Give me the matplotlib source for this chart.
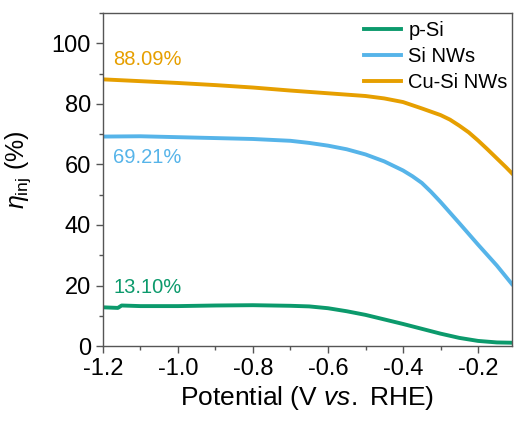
import matplotlib
matplotlib.use("Agg")
import matplotlib.pyplot as plt
from matplotlib.ticker import MultipleLocator

plt.rcParams["font.family"] = ["Liberation Sans", "DejaVu Sans"]
plt.rcParams["mathtext.fontset"] = "custom"
plt.rcParams["mathtext.rm"] = "Liberation Sans"
plt.rcParams["mathtext.it"] = "Liberation Sans:italic"

# -----------------------------
# Data
# -----------------------------
v_psi = [-1.2, -1.16, -1.15, -1.1, -1.0, -0.9, -0.8, -0.7, -0.65, -0.6, -0.55,
         -0.5, -0.45, -0.4, -0.35, -0.3, -0.25, -0.2, -0.15, -0.11]
eta_psi = [12.8, 12.6, 13.4, 13.2, 13.2, 13.4, 13.5, 13.3, 13.1, 12.5, 11.5,
           10.3, 8.8, 7.3, 5.7, 4.1, 2.7, 1.7, 1.2, 1.1]

v_sinw = [-1.2, -1.1, -1.0, -0.9, -0.8, -0.7, -0.65, -0.6, -0.55, -0.5, -0.45,
          -0.4, -0.375, -0.35, -0.325, -0.3, -0.25, -0.2, -0.15, -0.11]
eta_sinw = [69.2, 69.3, 69.0, 68.7, 68.4, 67.8, 67.1, 66.2, 65.0, 63.3, 61.0,
            58.0, 56.1, 53.9, 50.9, 47.6, 40.6, 33.5, 26.6, 20.5]

v_cusi = [-1.2, -1.1, -1.0, -0.9, -0.8, -0.7, -0.6, -0.5, -0.45, -0.4, -0.35,
          -0.3, -0.275, -0.25, -0.225, -0.2, -0.175, -0.15, -0.125, -0.11]
eta_cusi = [88.1, 87.5, 86.9, 86.2, 85.4, 84.4, 83.5, 82.6, 81.8, 80.6, 78.5,
            76.3, 74.8, 72.8, 70.6, 67.9, 65.0, 62.0, 59.0, 57.1]

labels = ["p-Si", "Si NWs", "Cu-Si NWs"]
colors = ["#0c9a6c", "#56b4e9", "#e69f00"]
values_text = ["13.10%", "69.21%", "88.09%"]
text_y = [19.2, 62.4, 94.5]

# -----------------------------
# Plot
# -----------------------------
fig = plt.figure(figsize=(5.17, 4.21), dpi=100)
ax = fig.add_axes([0.199, 0.178, 0.791, 0.791])

series = [(v_psi, eta_psi), (v_sinw, eta_sinw), (v_cusi, eta_cusi)]
for (v, eta), lab, c in zip(series, labels, colors):
    ax.plot(v, eta, color=c, linewidth=2.8, label=lab)

for txt, ty, c in zip(values_text, text_y, colors):
    ax.text(-1.173, ty, txt, color=c, fontsize=14.5, va="center", ha="left")

ax.set_xlim(-1.2, -0.11)
ax.set_ylim(0, 110)
ax.xaxis.set_minor_locator(MultipleLocator(0.1))
ax.yaxis.set_minor_locator(MultipleLocator(10))
ax.set_xticks([-1.2, -1.0, -0.8, -0.6, -0.4, -0.2])
ax.set_xticklabels(["-1.2", "-1.0", "-0.8", "-0.6", "-0.4", "-0.2"])
ax.set_yticks([0, 20, 40, 60, 80, 100])

for s in ax.spines.values():
    s.set_color("#555555")
    s.set_linewidth(1.0)
ax.tick_params(which="both", direction="out", color="#555555", labelsize=17,
               top=False, right=False)
ax.tick_params(which="major", length=5, width=1.0)
ax.tick_params(which="minor", length=3, width=1.0)

ax.set_xlabel(r"Potential (V $\mathit{vs.}$ RHE)", fontsize=19, labelpad=3)
ax.set_ylabel(r"$\mathit{\eta}_{\mathrm{inj}}$ (%)", fontsize=18)
ax.yaxis.set_label_coords(-0.17, 0.53)

ax.legend(loc="upper right", frameon=False, fontsize=14.5, handlelength=1.85,
          handletextpad=0.35, labelspacing=0.35, borderaxespad=0.0,
          bbox_to_anchor=(1.01, 1.0))

fig.savefig("out.png", dpi=100)
plt.close(fig)
